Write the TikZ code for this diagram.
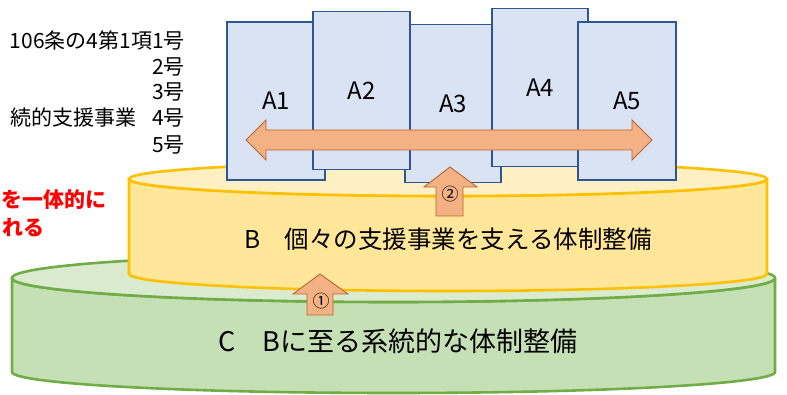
\documentclass[tikz,border=0pt]{standalone}
\usepackage{fontspec}
\setmainfont{Noto Sans CJK JP}
\definecolor{gside}{HTML}{C5E0B4}
\definecolor{gtop}{HTML}{DAEBD0}
\definecolor{gline}{HTML}{70AD47}
\definecolor{yside}{HTML}{FFE699}
\definecolor{ytop}{HTML}{FFF0C4}
\definecolor{yline}{HTML}{FFC000}
\definecolor{bfill}{HTML}{DAE3F3}
\definecolor{bline}{HTML}{2F5597}
\definecolor{afill}{HTML}{F4B183}
\definecolor{aline}{HTML}{B8652E}
\definecolor{redtxt}{HTML}{FF0000}
\tikzset{
  abox/.style={draw=bline, fill=bfill, line width=1.4pt, inner sep=0pt,
    minimum width=97pt, minimum height=158pt,
    font=\fontsize{24}{28}\selectfont},
  blockarrow/.style={draw=aline, fill=afill, line width=0.9pt, line join=miter},
  lawtxt/.style={anchor=east, inner sep=0pt, font=\fontsize{21}{24}\selectfont},
  redlabel/.style={inner sep=0pt, text=redtxt, font=\fontsize{21}{24}\selectfont\bfseries},
  circnum/.style={inner sep=0pt, font=\fontsize{17}{19}\selectfont},
}
\begin{document}
\begin{tikzpicture}[x=1pt, y=-1pt]
\useasboundingbox (0,0) rectangle (787,395);
\clip (0,0) rectangle (787,395);

% C cylinder (green)
\path[fill=gside, draw=gline, line width=2.6pt, line join=round]
  (12,278) -- (12,372) arc[start angle=180, end angle=0, x radius=381.5, y radius=21]
  -- (775,278) arc[start angle=0, end angle=180, x radius=381.5, y radius=24] -- cycle;
\path[fill=gtop, draw=gline, line width=2.6pt] (393.5,278) ellipse[x radius=381.5, y radius=24];

% B cylinder (yellow)
\path[fill=yside, draw=yline, line width=2.6pt, line join=round]
  (129,179) -- (129,274) arc[start angle=180, end angle=0, x radius=319, y radius=17]
  -- (767,179) arc[start angle=0, end angle=180, x radius=319, y radius=17] -- cycle;
\path[fill=ytop, draw=yline, line width=2.6pt] (448,179) ellipse[x radius=319, y radius=17];

% A boxes
\node[abox, minimum width=98pt] (a1) at (276,101) {A1};
\node[abox, minimum width=96pt] (a3) at (453,103.5) {A3};
\node[abox] (a2) at (361.5,90.5) {A2};
\node[abox, minimum width=96pt] (a4) at (540,87.5) {A4};
\node[abox, minimum width=98pt] (a5) at (627,101) {A5};

% double arrow across A1..A5
\coordinate (dl) at (246,140);
\coordinate (dr) at (652,140);
\path[blockarrow] (dl) -- ++(20,-20) -- ++(0,10) -- (632,130) -- ++(0,-10) -- (dr)
  -- (632,160) -- ++(0,-10) -- (266,150) -- ++(0,10) -- cycle;

% arrow 2 (B -> A)
\path[blockarrow] (450,167) -- (477,187) -- (463,187) -- (463,216) -- (436,216)
  -- (436,187) -- (424,187) -- cycle;
\node[circnum] (n2) at (450,194) {②};

% arrow 1 (C -> B)
\path[blockarrow] (320,274) -- (348,294) -- (333,294) -- (333,315) -- (307,315)
  -- (307,294) -- (293,294) -- cycle;
\node[circnum] (n1) at (321,301) {①};

% cylinder labels
\node[inner sep=0pt, font=\fontsize{24.5}{28}\selectfont] (btxt) at (448,239)
  {B　個々の支援事業を支える体制整備};
\node[inner sep=0pt, font=\fontsize{27}{30}\selectfont] (ctxt) at (398,341)
  {C　Bに至る系統的な体制整備};

% left law text
\node[lawtxt] (l1) at (185,40) {106条の4第1項1号};
\node[lawtxt] (l2) at (185,67) {2号};
\node[lawtxt] (l3) at (185,92) {3号};
\node[lawtxt] (l4) at (185,118) {続的支援事業\hspace{0.75em}4号};
\node[lawtxt] (l5) at (185,145) {5号};

% red note
\node[redlabel, anchor=east] (r1) at (107,200) {を一体的に};
\node[redlabel, anchor=west] (r2) at (2,228) {れる};
\end{tikzpicture}
\end{document}
